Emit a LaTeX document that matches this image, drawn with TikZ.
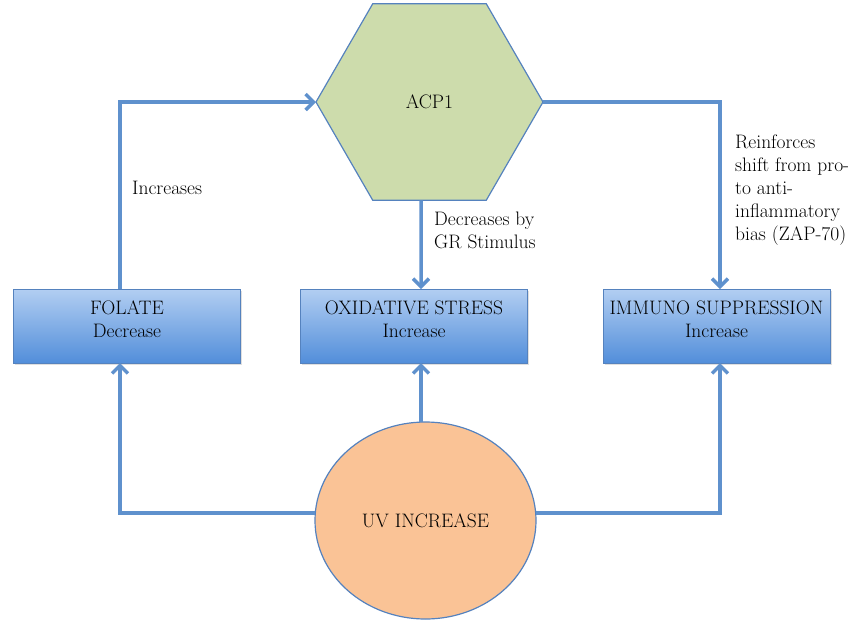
\documentclass[tikz,border=0pt]{standalone}
\usepackage{fontspec}
\usepackage{xcolor}
\usepackage{tikz}
\usetikzlibrary{shapes.geometric, arrows.meta, shadows}

\definecolor{linkblue}{RGB}{95,145,205}
\definecolor{rimblue}{RGB}{85,130,190}
\definecolor{hexgreen}{RGB}{205,220,172}
\definecolor{uvpeach}{RGB}{250,195,150}
\definecolor{boxtop}{RGB}{178,206,242}
\definecolor{boxbottom}{RGB}{82,142,218}

\tikzset{
  effect/.style={rectangle, draw=rimblue, line width=0.8pt, top color=boxtop, bottom color=boxbottom,
    minimum width=227pt, minimum height=74pt, inner sep=0pt, outer sep=0pt, align=center,
    text depth=14pt,
    drop shadow={opacity=0.25, shadow xshift=1.5pt, shadow yshift=-2pt}},
  hexa/.style={regular polygon, regular polygon sides=6, draw=rimblue, line width=1.2pt,
    fill=hexgreen, minimum size=227pt, inner sep=0pt, outer sep=0pt},
  uvball/.style={ellipse, draw=rimblue, line width=1.2pt, fill=uvpeach,
    minimum width=221pt, minimum height=197pt, inner sep=0pt, outer sep=0pt},
  note/.style={inner sep=0pt, align=left},
  flow/.style={draw=linkblue, line width=3.5pt, -{Straight Barb[length=8pt,width=16pt]}}
}

\begin{document}
\begin{tikzpicture}[x=1pt, y=1pt, font=\fontsize{19.5}{23}\selectfont]
  \useasboundingbox (0,0) rectangle (863,-622);

  \node[hexa] (acp) at (429.5,-102) {ACP1};
  \node[effect] (folate) at (127,-326) {FOLATE\\Decrease};
  \node[effect] (oxid) at (414,-326) {OXIDATIVE STRESS\\Increase};
  \node[effect] (immuno) at (716.5,-326) {IMMUNO SUPPRESSION\\Increase};
  \node[uvball] (uv) at (425.5,-520.5) {UV INCREASE};

  % links into ACP1 and out of it
  \draw[flow] ([xshift=-7pt]folate.north) |- (acp.west);
  \draw[flow] ([xshift=-8.5pt]acp.south) -- ([xshift=7pt]oxid.north);
  \draw[flow] (acp.east) -| ([xshift=3.5pt]immuno.north);

  % links from UV
  \draw[flow] ([xshift=-4.5pt]uv.north) -- ([xshift=7pt]oxid.south);
  \draw[flow] (uv.176) -| ([xshift=-7pt]folate.south);
  \draw[flow] (uv.4) -| ([xshift=3.5pt]immuno.south);

  \node[note, anchor=west] (inclbl) at (132,-188) {Increases};
  \node[note, anchor=west] (declbl) at (434,-230) {Decreases by\\GR Stimulus};
  \node[note, anchor=west] (reinlbl) at (735,-190) {Reinforces\\shift from pro-\\to anti-\\inflammatory\\bias (ZAP-70)};
\end{tikzpicture}
\end{document}
